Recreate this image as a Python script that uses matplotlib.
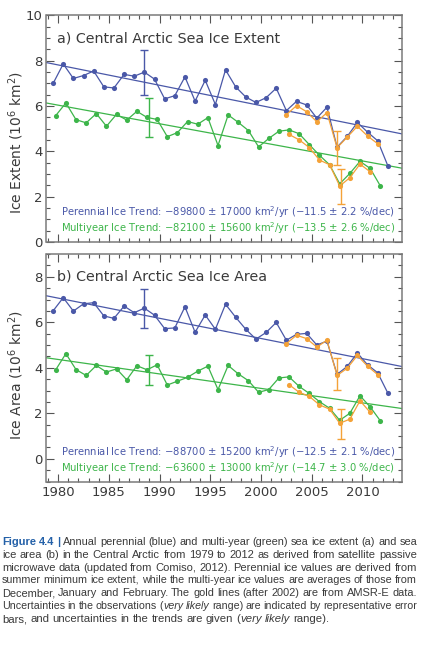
import matplotlib
matplotlib.use("Agg")
import matplotlib.pyplot as plt
from matplotlib.ticker import MultipleLocator
from matplotlib import font_manager
import numpy as np

# ---------------- data (10^6 km^2) ----------------
years = np.arange(1979, 2013)            # perennial (summer) years
my_years = np.arange(1979, 2012)         # multiyear (winter) years
amsr_years = np.arange(2002, 2012)       # AMSR-E perennial
amsr_my_years = np.arange(2002, 2011)    # AMSR-E multiyear

ext_perennial = [7.00, 7.86, 7.22, 7.35, 7.55, 6.85, 6.80, 7.40, 7.32, 7.50,
                 7.19, 6.32, 6.46, 7.29, 6.22, 7.14, 6.07, 7.60, 6.85, 6.40,
                 6.16, 6.37, 6.79, 5.80, 6.21, 6.05, 5.47, 5.95, 4.19, 4.66,
                 5.28, 4.85, 4.47, 3.37]
ext_multiyear = [5.58, 6.14, 5.40, 5.26, 5.67, 5.11, 5.64, 5.38, 5.77, 5.50,
                 5.41, 4.65, 4.83, 5.32, 5.20, 5.49, 4.26, 5.61, 5.28, 4.92,
                 4.20, 4.57, 4.89, 4.95, 4.78, 4.30, 3.83, 3.41, 2.57, 3.03,
                 3.56, 3.25, 2.48]
ext_perennial_amsr = [5.62, 6.02, 5.75, 5.31, 5.71, 4.16, 4.63, 5.11, 4.68, 4.34]
ext_multiyear_amsr = [4.75, 4.51, 4.17, 3.62, 3.41, 2.47, 2.84, 3.44, 3.10]

area_perennial = [6.50, 7.08, 6.49, 6.81, 6.86, 6.28, 6.17, 6.71, 6.42, 6.62,
                  6.31, 5.72, 5.75, 6.68, 5.56, 6.32, 5.69, 6.79, 6.22, 5.69,
                  5.26, 5.55, 5.99, 5.21, 5.47, 5.51, 5.00, 5.17, 3.71, 4.06,
                  4.65, 4.13, 3.78, 2.89]
area_multiyear = [3.91, 4.62, 3.92, 3.66, 4.10, 3.81, 3.95, 3.47, 4.09, 3.91,
                  4.13, 3.24, 3.41, 3.58, 3.85, 4.07, 3.04, 4.10, 3.73, 3.43,
                  2.92, 3.04, 3.55, 3.60, 3.18, 2.87, 2.51, 2.22, 1.69, 2.00,
                  2.77, 2.28, 1.67]
area_perennial_amsr = [5.06, 5.43, 5.28, 4.91, 5.21, 3.66, 3.98, 4.54, 4.07, 3.70]
area_multiyear_amsr = [3.26, 2.92, 2.74, 2.37, 2.18, 1.56, 1.74, 2.55, 2.04]

# trends: slope (10^6 km^2/yr) and value at 1995
ext_trend_slope = [-0.0898, -0.0821]
ext_trend_1995 = [6.47, 4.81]
area_trend_slope = [-0.0887, -0.0636]
area_trend_1995 = [5.73, 3.41]

# representative error bars: blue, green, AMSR perennial, AMSR multiyear
err_years = [1988.5, 1988.93, 2007.48, 2007.87]
ext_err_center = [7.47, 5.49, 4.16, 2.45]
ext_err_half = [1.00, 0.86, 0.75, 0.79]
area_err_center = [6.60, 3.90, 3.73, 1.53]
area_err_half = [0.86, 0.68, 0.69, 0.65]

ext_texts = ["Perennial Ice Trend: \u221289800 \u00b1 17000 km$^2$/yr (\u221211.5 \u00b1 2.2 %/dec)",
             "Multiyear Ice Trend: \u221282100 \u00b1 15600 km$^2$/yr (\u221213.5 \u00b1 2.6 %/dec)"]
area_texts = ["Perennial Ice Trend: \u221288700 \u00b1 15200 km$^2$/yr (\u221212.5 \u00b1 2.1 %/dec)",
              "Multiyear Ice Trend: \u221263600 \u00b1 13000 km$^2$/yr (\u221214.7 \u00b1 3.0 %/dec)"]
titles = ["a) Central Arctic Sea Ice Extent", "b) Central Arctic Sea Ice Area"]
ylabels = ["Ice Extent (10$^6$ km$^2$)", "Ice Area (10$^6$ km$^2$)"]
xticks = [1980, 1985, 1990, 1995, 2000, 2005, 2010]

caption_lines = [
    "**Figure 4.4 |** Annual perennial (blue) and multi-year (green) sea ice extent (a) and sea",
    "ice area (b) in the Central Arctic from 1979 to 2012 as derived from satellite passive",
    "microwave data (updated from Comiso, 2012). Perennial ice values are derived from",
    "summer minimum ice extent, while the multi-year ice values are averages of those from",
    "December, January and February. The gold lines (after 2002) are from AMSR-E data.",
    "Uncertainties in the observations (*very likely* range) are indicated by representative error",
    "bars, and uncertainties in the trends are given (*very likely* range).",
]

# ---------------- style ----------------
BLUE = "#4a58a8"
GREEN = "#3db54a"
ORANGE = "#f4a238"
TXT = "#3a3a3a"
FRAME = "#7a7a7a"
plt.rcParams["font.family"] = ["DejaVu Sans"]
plt.rcParams["mathtext.fontset"] = "dejavusans"

W, H = 435, 650
fig = plt.figure(figsize=(W / 100, H / 100), dpi=100)

def rect(left, right, top, bottom):
    return [left / W, 1 - bottom / H, (right - left) / W, (bottom - top) / H]

ax1 = fig.add_axes(rect(46.5, 402, 15.5, 242))
ax2 = fig.add_axes(rect(46.5, 402, 254, 481.5))

blue_x = years + 0.5
green_x = my_years + 0.76
amsr_x = amsr_years + 0.5
amsr_my_x = amsr_my_years + 0.76

panels = [
    (ax1, ext_perennial, ext_multiyear, ext_perennial_amsr, ext_multiyear_amsr,
     ext_trend_slope, ext_trend_1995, ext_err_center, ext_err_half, ext_texts, (0, 10)),
    (ax2, area_perennial, area_multiyear, area_perennial_amsr, area_multiyear_amsr,
     area_trend_slope, area_trend_1995, area_err_center, area_err_half, area_texts, (-1, 9)),
]

xlim = (1978.85, 2013.9)
err_colors = [BLUE, GREEN, ORANGE, ORANGE]
for k, (ax, per, my, per_a, my_a, slope, v95, ec, eh, texts, ylim) in enumerate(panels):
    mk = dict(marker="o", ms=3.7, lw=0.9, mew=0)
    ax.plot(blue_x, per, color=BLUE, **mk, zorder=3)
    ax.plot(green_x, my, color=GREEN, **mk, zorder=3)
    ax.plot(amsr_x, per_a, color=ORANGE, **mk, zorder=4)
    ax.plot(amsr_my_x, my_a, color=ORANGE, **mk, zorder=4)
    tx = np.array(xlim)
    for s, v, c in zip(slope, v95, [BLUE, GREEN]):
        ax.plot(tx, v + s * (tx - 1995), color=c, lw=0.9, zorder=2)
    for xe, yc, hh, c in zip(err_years, ec, eh, err_colors):
        ax.errorbar([xe], [yc], yerr=[hh], color=c, lw=1.0, capsize=3.2,
                    capthick=1.0, fmt="none", zorder=5)
    ax.set_xlim(*xlim)
    ax.set_ylim(*ylim)
    ax.xaxis.set_major_locator(MultipleLocator(5))
    ax.xaxis.set_minor_locator(MultipleLocator(1))
    ax.yaxis.set_major_locator(MultipleLocator(2))
    ax.yaxis.set_minor_locator(MultipleLocator(0.5))
    ax.tick_params(which="both", direction="in", top=True, right=True,
                   color="#555555", width=0.8, labelcolor=TXT, labelsize=9.5)
    ax.tick_params(which="major", length=5.5, pad=3)
    ax.tick_params(which="minor", length=2.6)
    for sp in ax.spines.values():
        sp.set_color(FRAME)
        sp.set_linewidth(1.1)
    ax.set_xticks(xticks)
    ax.text(0.03, 0.9, titles[k], transform=ax.transAxes, fontsize=10.3,
            color=TXT, va="center", ha="left")
    ax.text(0.041, 0.130, texts[0], transform=ax.transAxes, fontsize=7.2,
            color=BLUE, va="center", ha="left")
    ax.text(0.041, 0.061, texts[1], transform=ax.transAxes, fontsize=7.2,
            color=GREEN, va="center", ha="left")
    ax.set_ylabel(ylabels[k], fontsize=10, color=TXT)

ax1.tick_params(labelbottom=False)
ax1.set_yticks([0, 2, 4, 6, 8, 10])
ax2.set_yticks([0, 2, 4, 6, 8])
ax1.yaxis.set_label_coords(-0.058, 0.44)
ax2.yaxis.set_label_coords(-0.058, 0.47)

# ---------------- caption (justified) ----------------
names = {f.name for f in font_manager.fontManager.ttflist}
cap_font = "Liberation Sans Narrow" if "Liberation Sans Narrow" in names else "Liberation Sans"
CAP_BLUE = "#2360a8"
cap_size = 8.2

def parse(line):
    words, style = [], "normal"
    for raw in line.split(" "):
        pieces, buf, i = [], "", 0
        while i < len(raw):
            if raw.startswith("**", i):
                if buf:
                    pieces.append((buf, style)); buf = ""
                style = "normal" if style == "bold" else "bold"
                i += 2
            elif raw[i] == "*":
                if buf:
                    pieces.append((buf, style)); buf = ""
                style = "normal" if style == "italic" else "italic"
                i += 1
            else:
                buf += raw[i]; i += 1
        if buf:
            pieces.append((buf, style))
        words.append(pieces)
    return words

renderer = fig.canvas.get_renderer()
cap_left, cap_right = 2.0, 417.0
target = cap_right - cap_left
line_y0, line_dy = 541.7, 12.93

def make_text(s, style, size):
    kw = dict(fontsize=size, family=cap_font, va="center", ha="left", color=TXT)
    if style == "bold":
        kw.update(weight="bold", color=CAP_BLUE)
    elif style == "italic":
        kw.update(style="italic")
    return fig.text(0, 0, s, **kw)

def space_width(size):
    a = make_text("a a", "normal", size)
    b = make_text("aa", "normal", size)
    w = a.get_window_extent(renderer).width - b.get_window_extent(renderer).width
    a.remove(); b.remove()
    return w

def build(words, size):
    objs, total = [], 0.0
    for pieces in words:
        wobjs = []
        for s, st in pieces:
            t = make_text(s, st, size)
            wobjs.append((t, t.get_window_extent(renderer).width))
        objs.append(wobjs)
        total += sum(w for _, w in wobjs)
    return objs, total

for li, line in enumerate(caption_lines):
    words = parse(line)
    last = li == len(caption_lines) - 1
    size = cap_size
    if not last:
        objs, total = build(words, size)
        natural = total + (len(words) - 1) * space_width(size)
        size = cap_size * min(max(target / natural, 0.9), 1.12)
        for wobjs in objs:
            for t, _ in wobjs:
                t.remove()
    objs, total = build(words, size)
    sw = space_width(size)
    gap = sw if last else (target - total) / (len(words) - 1)
    x = cap_left
    y = 1 - (line_y0 + li * line_dy) / H
    for wobjs in objs:
        for t, w in wobjs:
            t.set_position((x / W, y))
            x += w
        x += gap

fig.savefig("out.png", dpi=100)
